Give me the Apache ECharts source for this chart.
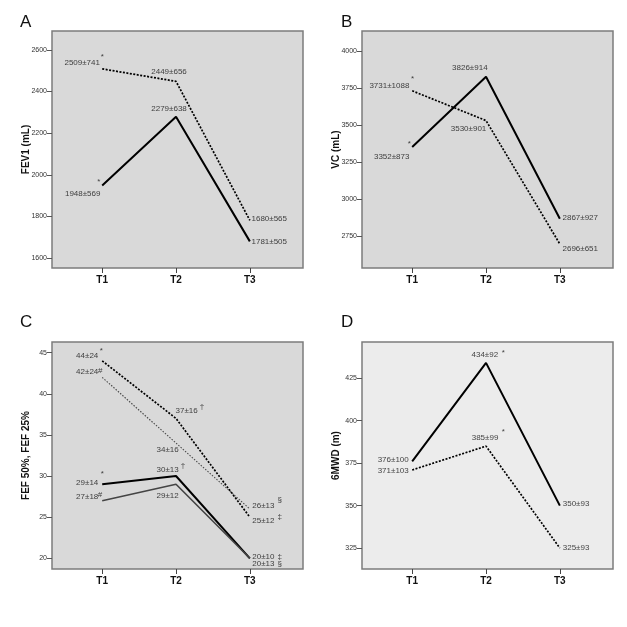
<!DOCTYPE html>
<html>
<head>
<meta charset="utf-8">
<script src="https://cdn.jsdelivr.net/npm/echarts@6/dist/echarts.min.js"></script>
<style>html,body{margin:0;padding:0;background:#fff}#c{width:627px;height:627px}</style>
</head>
<body>
<div id="c"></div>
<script>
// ---------- data ----------
const timepoints = ['T1', 'T2', 'T3'];

// Panel A: FEV1 (mL)
const fev1Solid = [1948, 2279, 1680];
const fev1Dashed = [2509, 2449, 1781];
const fev1SolidLabels = ['1948±569', '2279±638', '1781±505'];
const fev1DashedLabels = ['2509±741', '2449±656', '1680±565'];
const fev1SolidMarks = ['*', '', ''];
const fev1DashedMarks = ['*', '', ''];
const fev1Ticks = [1600, 1800, 2000, 2200, 2400, 2600];

// Panel B: VC (mL)
const vcSolid = [3352, 3826, 2867];
const vcDashed = [3731, 3530, 2696];
const vcSolidLabels = ['3352±873', '3826±914', '2867±927'];
const vcDashedLabels = ['3731±1088', '3530±901', '2696±651'];
const vcSolidMarks = ['*', '', ''];
const vcDashedMarks = ['*', '', ''];
const vcTicks = [2750, 3000, 3250, 3500, 3750, 4000];

// Panel C: FEF 50%, FEF 25%
const fefDashed = [44, 37, 25];
const fefDotted = [42, 34, 26];
const fefSolid = [29, 30, 20];
const fefSolidGray = [27, 29, 20];
const fefDashedLabels = ['44±24', '37±16', '25±12'];
const fefDottedLabels = ['42±24', '34±16', '26±13'];
const fefSolidLabels = ['29±14', '30±13', '20±10'];
const fefSolidGrayLabels = ['27±18', '29±12', '20±13'];
const fefDashedMarks = ['*', '†', '‡'];
const fefDottedMarks = ['#', '', '§'];
const fefSolidMarks = ['*', '†', '‡'];
const fefSolidGrayMarks = ['#', '', '§'];
const fefTicks = [20, 25, 30, 35, 40, 45];

// Panel D: 6MWD (m)
const mwdSolid = [376, 434, 350];
const mwdDashed = [371, 385, 325];
const mwdSolidLabels = ['376±100', '434±92', '350±93'];
const mwdDashedLabels = ['371±103', '385±99', '325±93'];
const mwdSolidMarks = ['', '*', ''];
const mwdDashedMarks = ['', '*', ''];
const mwdTicks = [325, 350, 375, 400, 425];

// ---------- layout / style ----------
const SANS = "'Liberation Sans',Arial,Helvetica,sans-serif";
const LINE_SOLID = { color: '#000', width: 2, type: 'solid' };
const LINE_DASH = { color: '#000', width: 1.7, type: [2, 1.5] };
const LINE_DOT_GRAY = { color: '#4a4a4a', width: 1.1, type: [1.5, 1.5] };
const LINE_SOLID_GRAY = { color: '#444', width: 1.6, type: 'solid' };

const panels = [
  { letter: 'A', name: 'FEV1 (mL)', grid: { left: 52, top: 31, width: 251, height: 237 }, bg: '#d9d9d9',
    ymin: 1552, ymax: 2691, ticks: fev1Ticks,
    series: [
      { vals: fev1Dashed, labels: fev1DashedLabels, marks: fev1DashedMarks, line: LINE_DASH,
        lo: [[-20, -5.6], [-7, -10], [19.4, -1.6]], mo: [[0, -12.3], null, null] },
      { vals: fev1Solid, labels: fev1SolidLabels, marks: fev1SolidMarks, line: LINE_SOLID,
        lo: [[-19.5, 7.7], [-7, -8.4], [19.4, 0]], mo: [[-3.3, -4], null, null] }
    ] },
  { letter: 'B', name: 'VC (mL)', grid: { left: 362, top: 31, width: 251, height: 237 }, bg: '#d9d9d9',
    ymin: 2534, ymax: 4135, ticks: vcTicks,
    series: [
      { vals: vcDashed, labels: vcDashedLabels, marks: vcDashedMarks, line: LINE_DASH,
        lo: [[-22.8, -5], [-17.5, 8], [20.4, 5]], mo: [[0.4, -12.3], null, null] },
      { vals: vcSolid, labels: vcSolidLabels, marks: vcSolidMarks, line: LINE_SOLID,
        lo: [[-20.5, 9.6], [-16.2, -9.3], [20.4, -1.3]], mo: [[-3, -3.4], null, null] }
    ] },
  { letter: 'C', name: 'FEF 50%, FEF 25%', grid: { left: 52, top: 342, width: 251, height: 227 }, bg: '#d9d9d9',
    ymin: 18.7, ymax: 46.29, ticks: fefTicks,
    series: [
      { vals: fefDashed, labels: fefDashedLabels, marks: fefDashedMarks, line: LINE_DASH,
        lo: [[-15, -5], [10.6, -7.7], [13.5, 3.6]], mo: [[-1, -10], [26, -11.4], [30, -0.4]] },
      { vals: fefDotted, labels: fefDottedLabels, marks: fefDottedMarks, line: LINE_DOT_GRAY,
        lo: [[-15, -5], [-8.4, 7], [13.5, -3.2]], mo: [[-2, -6], null, [30, -9]] },
      { vals: fefSolid, labels: fefSolidLabels, marks: fefSolidMarks, line: LINE_SOLID,
        lo: [[-15, -1.4], [-8.4, -6.6], [13.5, -1.6]], mo: [[0, -10.8], [7, -10.2], [30, -1.6]] },
      { vals: fefSolidGray, labels: fefSolidGrayLabels, marks: fefSolidGrayMarks, line: LINE_SOLID_GRAY,
        lo: [[-15, -3.9], [-8.4, 11.6], [13.5, 5.7]], mo: [[-2.3, -6.3], null, [30, 5.7]] }
    ] },
  { letter: 'D', name: '6MWD (m)', grid: { left: 362, top: 342, width: 251, height: 227 }, bg: '#ececec',
    ymin: 312.7, ymax: 446.3, ticks: mwdTicks,
    series: [
      { vals: mwdSolid, labels: mwdSolidLabels, marks: mwdSolidMarks, line: LINE_SOLID,
        lo: [[-19, -1.6], [-1.2, -7.7], [16.2, -1.7]], mo: [null, [17.3, -10.4], null] },
      { vals: mwdDashed, labels: mwdDashedLabels, marks: mwdDashedMarks, line: LINE_DASH,
        lo: [[-19, 0.5], [-1, -7.9], [16.2, 0]], mo: [null, [17.3, -13.9], null] }
    ] }
];

const letterPos = [[20, 14], [341, 14], [20, 314], [341, 314]];
const xTickValues = timepoints.map((t, i) => i + 1);

const option = {
  animation: false,
  backgroundColor: '#fff',
  title: panels.map((p, i) => ({
    text: p.letter, left: letterPos[i][0], top: letterPos[i][1], padding: 0,
    textStyle: { fontFamily: SANS, fontSize: 17, fontWeight: 'normal', color: '#111' }
  })),
  grid: panels.map(p => Object.assign({}, p.grid, {
    show: true, backgroundColor: p.bg, borderColor: '#7c7c7c', borderWidth: 1.5, containLabel: false
  })),
  xAxis: panels.map((p, i) => ({
    type: 'value', gridIndex: i, min: 0.32, max: 3.72,
    axisLine: { show: false },
    splitLine: { show: false },
    axisTick: { show: true, customValues: xTickValues, length: 5, inside: false, lineStyle: { color: '#444', width: 1 } },
    axisLabel: { show: true, customValues: xTickValues, margin: 7,
      formatter: v => timepoints[Math.round(v) - 1] || '',
      fontFamily: SANS, fontSize: 10, fontWeight: 'bold', color: '#111' }
  })),
  yAxis: panels.map((p, i) => ({
    type: 'value', gridIndex: i, min: p.ymin, max: p.ymax,
    name: p.name, nameLocation: 'middle', nameGap: 20.5, nameMoveOverlap: false,
    nameTextStyle: { fontFamily: SANS, fontSize: 10, fontWeight: 'bold', color: '#111' },
    axisLine: { show: false },
    splitLine: { show: false },
    axisTick: { show: true, customValues: p.ticks, length: 5, lineStyle: { color: '#555', width: 1 } },
    axisLabel: { show: true, customValues: p.ticks, margin: 5, formatter: v => String(v),
      fontFamily: SANS, fontSize: 7, color: '#333' }
  })),
  series: []
};

panels.forEach((p, gi) => {
  p.series.forEach(s => {
    option.series.push({
      type: 'line', xAxisIndex: gi, yAxisIndex: gi, symbol: 'none', silent: true,
      lineStyle: s.line, z: 3,
      data: s.vals.map((v, k) => [k + 1, v])
    });
    option.series.push({
      type: 'scatter', xAxisIndex: gi, yAxisIndex: gi, symbolSize: 1, silent: true, z: 5,
      itemStyle: { color: 'rgba(0,0,0,0)' },
      label: { show: true, position: 'inside', fontFamily: SANS, fontSize: 8, color: '#111',
        formatter: prm => s.labels[prm.dataIndex] },
      data: s.vals.map((v, k) => ({ value: [k + 1, v], label: { offset: s.lo[k] } }))
    });
    const markData = [];
    s.vals.forEach((v, k) => {
      if (s.marks[k] && s.mo[k]) markData.push({ value: [k + 1, v], mark: s.marks[k], label: { offset: s.mo[k] } });
    });
    option.series.push({
      type: 'scatter', xAxisIndex: gi, yAxisIndex: gi, symbolSize: 1, silent: true, z: 5,
      itemStyle: { color: 'rgba(0,0,0,0)' },
      label: { show: true, position: 'inside', fontFamily: SANS, fontSize: 8, color: '#111',
        formatter: prm => markData[prm.dataIndex].mark },
      data: markData
    });
  });
});

const chart = echarts.init(document.getElementById('c'), null, { renderer: 'canvas' });
chart.setOption(option);
</script>
</body>
</html>
